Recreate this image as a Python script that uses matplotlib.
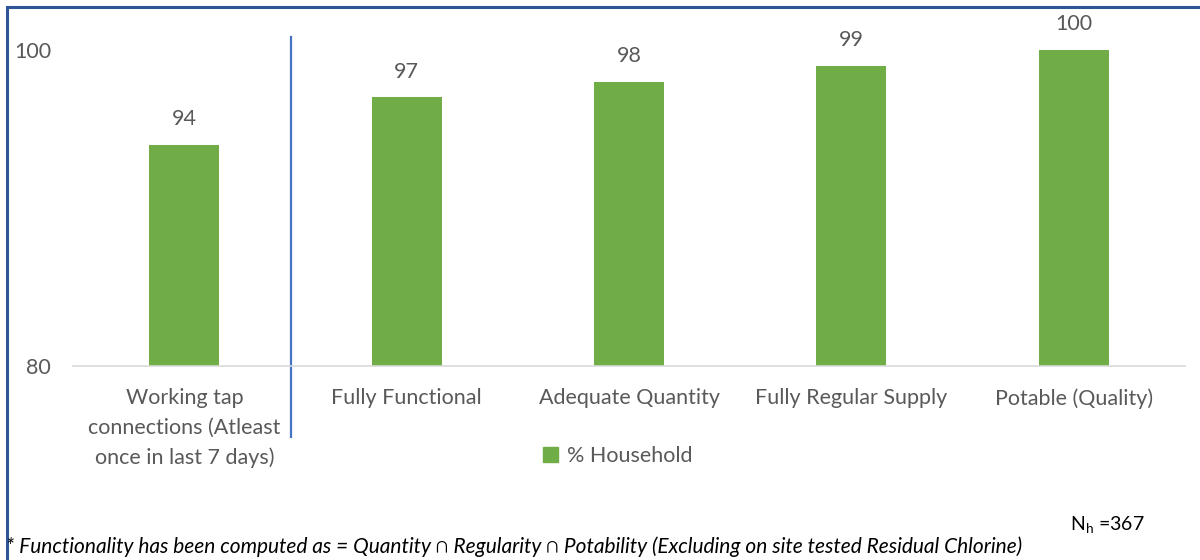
import matplotlib.pyplot as plt
from matplotlib.patches import Rectangle, Patch

categories = ["Working tap\nconnections (Atleast\nonce in last 7 days)",
              "Fully Functional", "Adequate Quantity",
              "Fully Regular Supply", "Potable (Quality)"]
household = [94, 97, 98, 99, 100]
y_ticks = [80, 100]

plt.rcParams['font.family'] = ['Lato', 'DejaVu Sans']
grey = '#595959'
green = '#70AD47'
fs = 15.5

fig = plt.figure(figsize=(12, 5.6), dpi=100)
ax = fig.add_axes([0.061, 0.3464, 0.9265, 0.5643])

x = list(range(len(household)))
ax.bar(x, household, width=0.315, color=green, zorder=2)
for xi, v in zip(x, household):
    ax.text(xi, v + 1.0, str(v), ha='center', va='bottom', fontsize=fs,
            color=grey, clip_on=False)

ax.set_ylim(80, 100)
ax.set_xlim(-0.5, len(household) - 0.5)
ax.set_yticks(y_ticks)
ax.set_yticklabels([str(t) for t in y_ticks], fontsize=fs, color=grey)
ax.set_xticks(x)
ax.set_xticklabels(categories, fontsize=fs, color=grey, va='top',
                   linespacing=1.6)
ax.tick_params(axis='x', length=0, pad=16)
ax.tick_params(axis='y', length=0, pad=16)
for s in ['top', 'right', 'left']:
    ax.spines[s].set_visible(False)
ax.spines['bottom'].set_color('#D9D9D9')
ax.spines['bottom'].set_linewidth(1.2)

# separator line between first category and the rest
ax.axvline(0.478, ymin=-0.225, ymax=1.04, color='#4472C4', lw=1.6, clip_on=False)

leg = fig.legend(handles=[Patch(color=green, label='% Household')],
                 loc='center', bbox_to_anchor=(0.515, 0.185), frameon=False,
                 fontsize=fs, handlelength=0.7, handleheight=0.7,
                 handletextpad=0.4)
for t in leg.get_texts():
    t.set_color(grey)

fig.text(0.892, 0.052, r'N$_{\mathregular{h}}$ =367', fontsize=14, color='black')
fig.text(0.005, 0.012,
         '* Functionality has been computed as = Quantity \u2229 Regularity \u2229 '
         'Potability (Excluding on site tested Residual Chlorine)',
         fontsize=15, style='italic', color='black')

fig.patches.append(Rectangle((0.006, -0.05), 1.05, 1.037,
                             transform=fig.transFigure, fill=False,
                             edgecolor='#2F5597', lw=2.2))

fig.savefig('out.png', dpi=100)
